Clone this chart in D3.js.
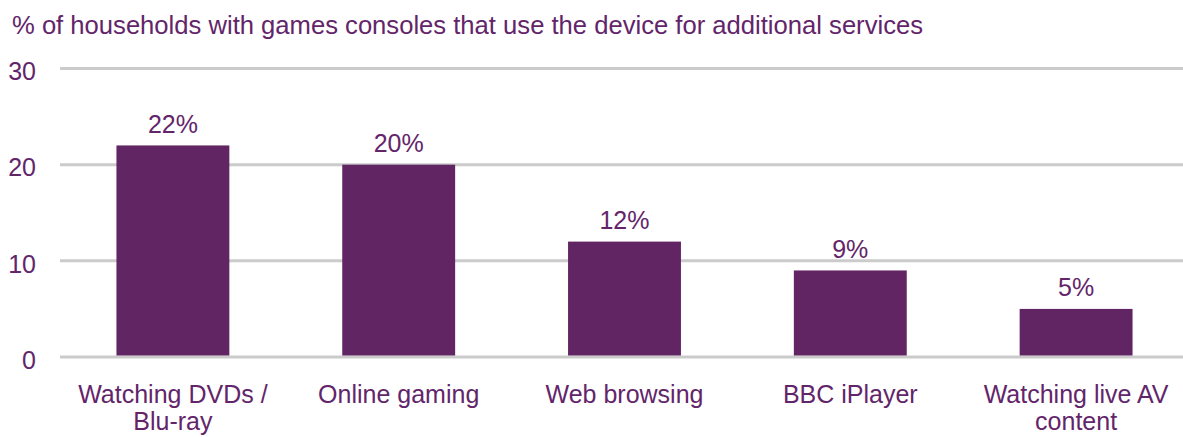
<!DOCTYPE html>
<html>
<head>
<meta charset="utf-8">
<script src="https://cdn.jsdelivr.net/npm/d3@7"></script>
<style>
  html, body { margin: 0; padding: 0; background: #ffffff; }
  svg { display: block; font-family: "Liberation Sans", Arial, sans-serif; }
</style>
</head>
<body>
<svg id="chart" width="1183" height="437"></svg>
<script>
// Share of households with games consoles using the console for other services
const categories = ["Watching DVDs / Blu-ray", "Online gaming", "Web browsing", "BBC iPlayer", "Watching live AV content"];
const values = [22, 20, 12, 9, 5];
const yTicks = [0, 10, 20, 30];
const title = "% of households with games consoles that use the device for additional services";

const purple = "#622564";
const textColor = "#63256a";
const gridColor = "#cbcbcb";
const fontSize = 25;

const svg = d3.select("#chart");
const W = 1183, H = 437;
const margin = { left: 60, right: -6, top: 68.5, bottom: 80 };

const x = d3.scaleBand()
  .domain(categories)
  .range([margin.left, W - margin.right])
  .paddingInner(0.5)
  .paddingOuter(0.25);

const y = d3.scaleLinear()
  .domain([0, 30])
  .range([357, 68.5]);

// Title
svg.append("text")
  .attr("x", 12)
  .attr("y", 34)
  .attr("fill", textColor)
  .attr("font-size", fontSize)
  .attr("textLength", 911)
  .attr("lengthAdjust", "spacingAndGlyphs")
  .text(title);

// Horizontal gridlines and y labels
const yAxis = d3.axisLeft(y).tickValues(yTicks).tickSize(0).tickPadding(24);
const gy = svg.append("g")
  .attr("transform", `translate(${margin.left},0)`)
  .call(yAxis);
gy.select(".domain").remove();
gy.selectAll(".tick text")
  .attr("fill", textColor)
  .attr("font-size", fontSize)
  .attr("font-family", "Liberation Sans, Arial, sans-serif")
  .attr("dy", "0.45em");

svg.append("g")
  .selectAll("line")
  .data(yTicks)
  .join("line")
  .attr("x1", margin.left)
  .attr("x2", W)
  .attr("y1", d => y(d))
  .attr("y2", d => y(d))
  .attr("stroke", gridColor)
  .attr("stroke-width", 3);

// Bars
svg.append("g")
  .selectAll("rect")
  .data(values)
  .join("rect")
  .attr("x", (d, i) => x(categories[i]))
  .attr("width", x.bandwidth())
  .attr("y", d => y(d))
  .attr("height", d => y(0) - y(d) - 1.5)
  .attr("fill", purple);

// Value labels
svg.append("g")
  .selectAll("text")
  .data(values)
  .join("text")
  .attr("x", (d, i) => x(categories[i]) + x.bandwidth() / 2)
  .attr("y", d => y(d) - 12.5)
  .attr("text-anchor", "middle")
  .attr("fill", textColor)
  .attr("font-size", fontSize)
  .text(d => d + "%");

// Category labels, wrapped to the band width
const gx = svg.append("g")
  .attr("transform", `translate(0,${y(0)})`)
  .call(d3.axisBottom(x).tickSize(0).tickPadding(0));
gx.select(".domain").remove();
gx.selectAll(".tick text").remove();

const step = x.step();
categories.forEach(cat => {
  const cx = x(cat) + x.bandwidth() / 2;
  const t = svg.append("text")
    .attr("x", cx)
    .attr("y", 403)
    .attr("text-anchor", "middle")
    .attr("fill", textColor)
    .attr("font-size", fontSize);
  const words = cat.split(" ");
  let line = [];
  let tspan = t.append("tspan").attr("x", cx).attr("dy", 0);
  words.forEach(w => {
    line.push(w);
    tspan.text(line.join(" "));
    if (tspan.node().getComputedTextLength() > step - 10 && line.length > 1) {
      line.pop();
      tspan.text(line.join(" "));
      line = [w];
      tspan = t.append("tspan").attr("x", cx).attr("dy", 27).text(w);
    }
  });
});
</script>
</body>
</html>
